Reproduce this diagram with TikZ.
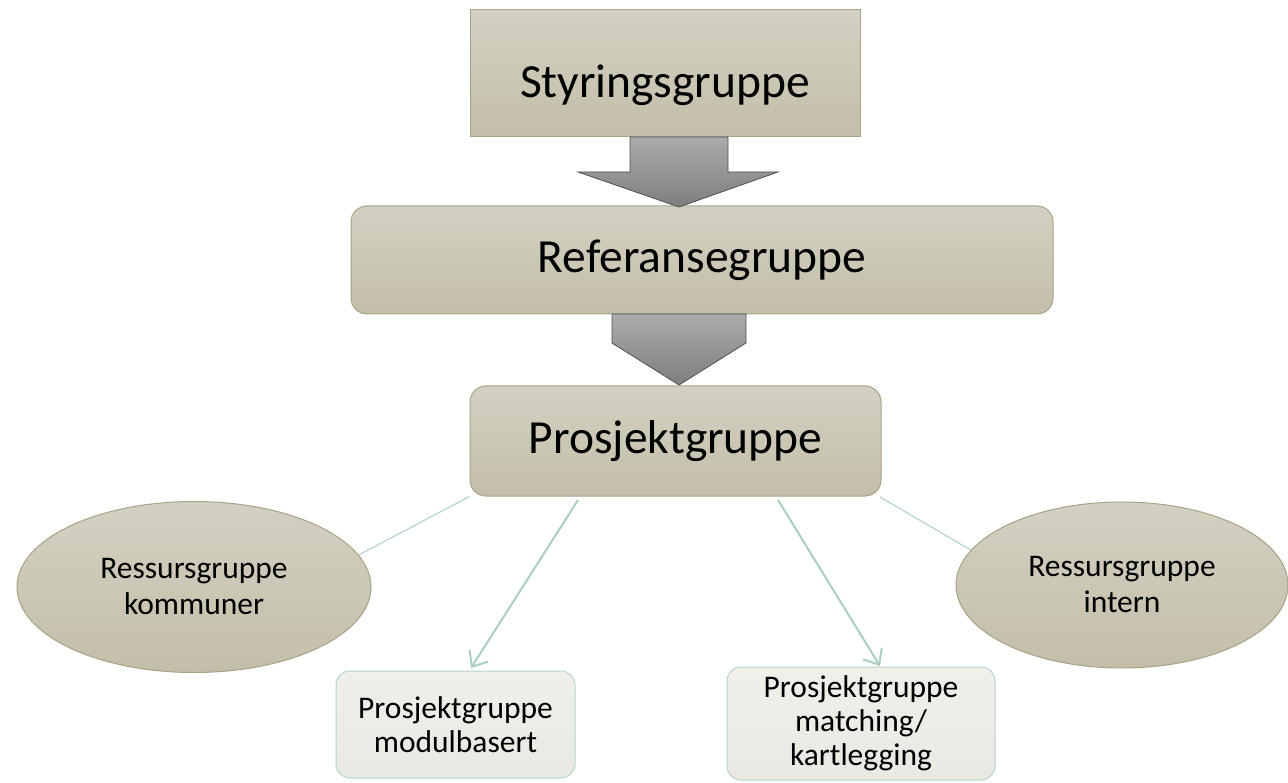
\documentclass[tikz,border=0pt]{standalone}
\usepackage{fontspec}
\setmainfont{Carlito}
\usetikzlibrary{arrows.meta,shapes.geometric}
\definecolor{boxtop}{HTML}{D3D1C3}
\definecolor{boxbot}{HTML}{C3BEA9}
\definecolor{boxline}{HTML}{A8A286}
\definecolor{lighttop}{HTML}{F0EFEA}
\definecolor{lightbot}{HTML}{E9E8E1}
\definecolor{lightline}{HTML}{B5D6C8}
\definecolor{conn}{HTML}{A9CFC0}
\definecolor{arrtop}{HTML}{ABABAB}
\definecolor{arrbot}{HTML}{7E7E7E}
\definecolor{arrline}{HTML}{505050}
\tikzset{
  bigbox/.style={draw=boxline, line width=1pt, top color=boxtop, bottom color=boxbot,
    font=\fontsize{47.5}{56}\selectfont, inner sep=0pt},
  oval/.style={ellipse, draw=boxline, line width=1pt, top color=boxtop, bottom color=boxbot,
    font=\fontsize{31.5}{36}\selectfont, align=center, inner sep=0pt},
  subbox/.style={draw=lightline, line width=1pt, top color=lighttop, bottom color=lightbot,
    rounded corners=14pt, font=\fontsize{31.5}{34}\selectfont, align=center, inner sep=0pt},
  blockarrow/.style={draw=arrline, line width=0.8pt, top color=arrtop, bottom color=arrbot},
  thinlink/.style={draw=conn, line width=1pt},
  arrowlink/.style={draw=conn, line width=2pt, -{Straight Barb[length=13pt,width=22pt,line width=2pt]}},
}
\begin{document}
\begin{tikzpicture}[x=1pt,y=-1pt]
\useasboundingbox (0,0) rectangle (1288,783);
\node[bigbox, minimum width=390pt, minimum height=127pt, text height=55pt, text depth=6pt] (S) at (665,73) {Styringsgruppe};
\node[bigbox, rounded corners=16pt, minimum width=702pt, minimum height=108pt] (Rf) at (702,260) {Referansegruppe};
\node[bigbox, rounded corners=16pt, minimum width=411pt, minimum height=110pt] (P) at (675.5,441) {Prosjektgruppe};
\node[oval, minimum width=354pt, minimum height=171pt] (L) at (194,587) {Ressursgruppe\\kommuner};
\node[oval, minimum width=332pt, minimum height=166pt] (R) at (1122,585) {Ressursgruppe\\intern};
\node[subbox, minimum width=239pt, minimum height=107pt] (B1) at (455.5,724.5) {Prosjektgruppe\\modulbasert};
\node[subbox, minimum width=268pt, minimum height=113pt] (B2) at (861,723.5) {Prosjektgruppe\\matching/\\kartlegging};
% block arrows
\path[blockarrow] (630,137) -- (728,137) -- (728,172) -- (778,172) -- (679,207) -- (578,172) -- (630,172) -- cycle;
\path[blockarrow] (612,314) -- (746,314) -- (746,343) -- (679,385) -- (612,343) -- cycle;
% connectors
\coordinate (a1) at (578,500);
\coordinate (a2) at (778,500);
\coordinate (b1) at (471,668);
\coordinate (b2) at (880,666);
\draw[thinlink] (P.south west) -- (L.11);
\draw[thinlink] (880,497) -- (R.167);
\draw[arrowlink] (a1) -- (b1);
\draw[arrowlink] (a2) -- (b2);
\end{tikzpicture}
\end{document}
